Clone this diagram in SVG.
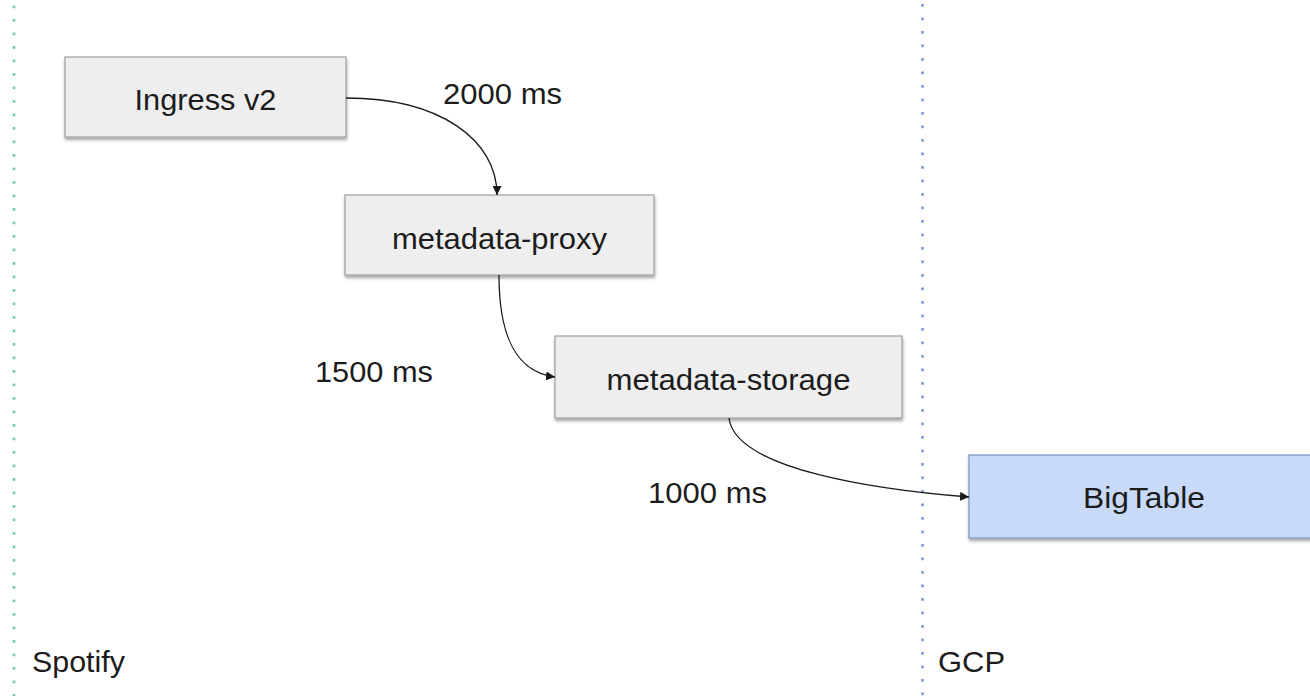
<svg xmlns="http://www.w3.org/2000/svg" width="1310" height="696" viewBox="0 0 1310 696">
<style>
.box{fill:#eeeeee;stroke:#9e9e9e;stroke-width:1.2}
.gcp{fill:#c9daf8;stroke:#7a93c4;stroke-width:1.2}
.t{font-family:"Liberation Sans",Arial,sans-serif;font-size:29px;fill:#1c1c1c}
.c{text-anchor:middle}
.conn{fill:none;stroke:#1a1a1a;stroke-width:1.3}
.sep{stroke-width:2.6;stroke-dasharray:2.6 10.9;fill:none}
</style>
<defs>
<filter id="sh" x="-5%" y="-10%" width="110%" height="130%">
<feDropShadow dx="0.5" dy="2.5" stdDeviation="1.5" flood-color="#000" flood-opacity="0.35"/>
</filter>
<marker id="arr" viewBox="0 0 10 10" refX="10" refY="5" markerWidth="9" markerHeight="9" markerUnits="userSpaceOnUse" orient="auto">
<path d="M0,0 L10,5 L0,10 z" fill="#1a1a1a"/>
</marker>
</defs>
<rect width="1310" height="696" fill="#ffffff"/>
<g id="separators">
<line class="sep" x1="14" y1="5.6" x2="14" y2="696" stroke="#76cda4"/>
<line class="sep" x1="922.5" y1="4.1" x2="922.5" y2="696" stroke="#8199d4"/>
</g>
<g id="region-labels">
<text class="t" x="32" y="672" textLength="93" lengthAdjust="spacingAndGlyphs">Spotify</text>
<text class="t" x="938" y="672" textLength="67" lengthAdjust="spacingAndGlyphs">GCP</text>
</g>
<g id="ingress">
<rect class="box" x="65" y="57" width="281" height="80" filter="url(#sh)"/>
<text class="t c" x="205.5" y="110" textLength="142" lengthAdjust="spacingAndGlyphs">Ingress v2</text>
</g>
<g id="metadata-proxy">
<rect class="box" x="345" y="195" width="309" height="80" filter="url(#sh)"/>
<text class="t c" x="499.5" y="249" textLength="215" lengthAdjust="spacingAndGlyphs">metadata-proxy</text>
</g>
<g id="metadata-storage">
<rect class="box" x="555" y="336" width="347" height="82" filter="url(#sh)"/>
<text class="t c" x="728.5" y="390" textLength="244" lengthAdjust="spacingAndGlyphs">metadata-storage</text>
</g>
<g id="bigtable">
<rect class="gcp" x="969" y="455" width="350" height="83" filter="url(#sh)"/>
<text class="t c" x="1144" y="508" textLength="122" lengthAdjust="spacingAndGlyphs">BigTable</text>
</g>
<g id="connectors">
<path class="conn" d="M346,98 C440,98 497,140 497,195" marker-end="url(#arr)"/>
<path class="conn" d="M499,275 C499,335 515,372 555,377" marker-end="url(#arr)"/>
<path class="conn" d="M729,418 C735,470 880,490 969,497" marker-end="url(#arr)"/>
</g>
<g id="connector-labels">
<text class="t" x="443" y="104" textLength="119" lengthAdjust="spacingAndGlyphs">2000 ms</text>
<text class="t" x="315" y="382" textLength="118" lengthAdjust="spacingAndGlyphs">1500 ms</text>
<text class="t" x="648" y="503" textLength="119" lengthAdjust="spacingAndGlyphs">1000 ms</text>
</g>
</svg>
